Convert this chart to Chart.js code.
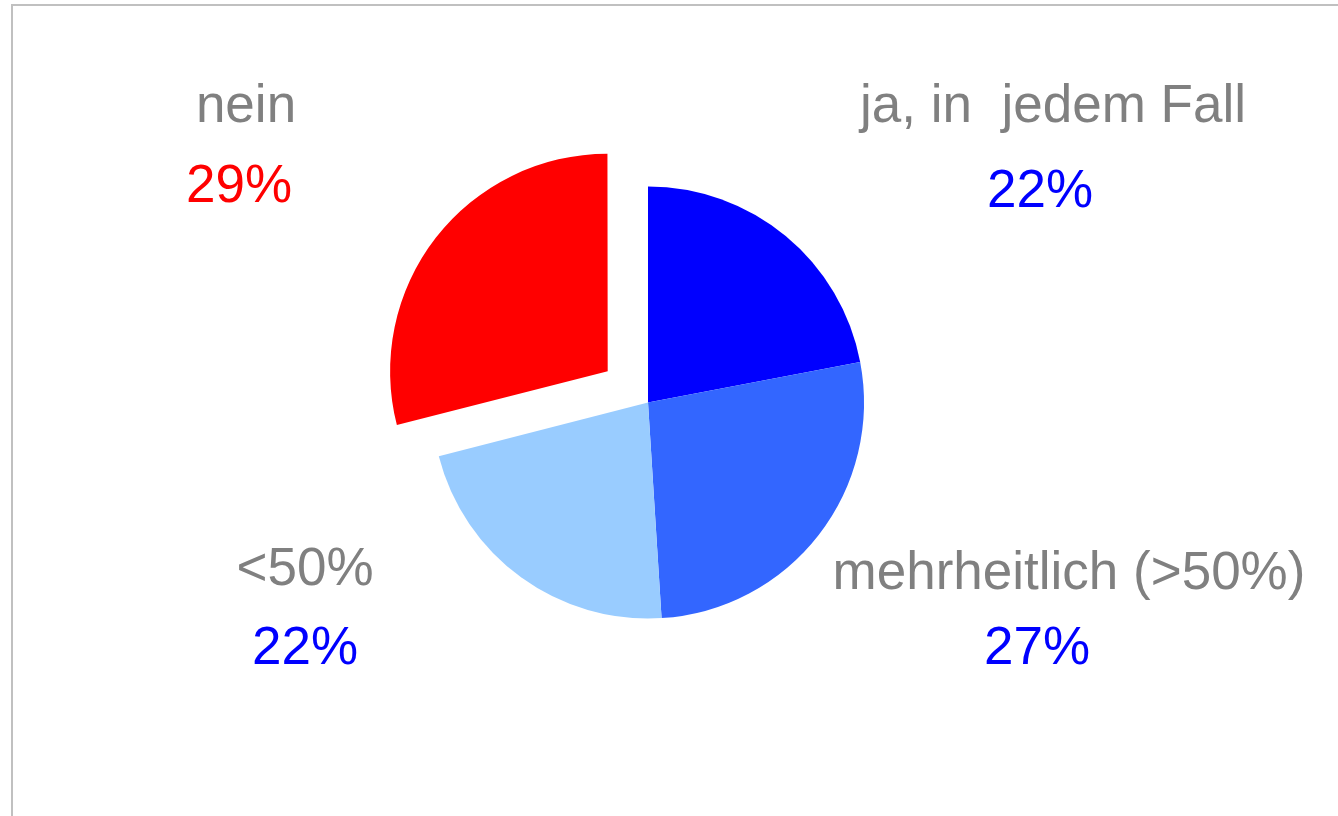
<!DOCTYPE html>
<html>
<head>
<meta charset="utf-8">
<style>
  html, body { margin: 0; padding: 0; background: #fff; }
  #wrap { position: relative; width: 1338px; height: 816px; overflow: hidden; }
  canvas { position: absolute; left: 0; top: 0; }
</style>
<script src="https://cdn.jsdelivr.net/npm/chart.js@4/dist/chart.umd.min.js"></script>
</head>
<body>
<div id="wrap"><canvas id="pie" width="1338" height="816"></canvas></div>
<script>
// data, clockwise from 12 o'clock
const categories = ['ja, in  jedem Fall', 'mehrheitlich (>50%)', '<50%', 'nein'];
const shares = [22, 27, 22, 29];
const sliceColors = ['#0000FF', '#3366FF', '#99CCFF', '#FF0000'];
const valueColors = ['#0000FF', '#0000FF', '#0000FF', '#FF0000'];
// chart.js moves an arc by offset/4, so 204 -> ~51px
const explode = [0, 0, 0, 204];

// where the name / value text sits (center x, baseline y)
const labelSpots = [
    { x: 1053, nameY: 122, valueX: 1040, valueY: 207 },
    { x: 1069, nameY: 589, valueX: 1037, valueY: 664 },
    { x: 305, nameY: 585, valueX: 305, valueY: 664 },
    { x: 246, nameY: 122, valueX: 239, valueY: 202 }
];

const frameLines = {
    id: 'frameLines',
    beforeDraw(chart) {
        const ctx = chart.ctx;
        ctx.save();
        ctx.strokeStyle = '#C0C0C0';
        ctx.lineWidth = 2;
        ctx.beginPath();
        ctx.moveTo(12, chart.height + 5);
        ctx.lineTo(12, 5);
        ctx.lineTo(chart.width + 5, 5);
        ctx.stroke();
        ctx.restore();
    }
};

const sliceLabels = {
    id: 'sliceLabels',
    afterDraw(chart) {
        const ctx = chart.ctx;
        const ds = chart.data.datasets[0];
        ctx.save();
        ctx.font = '53px "Liberation Sans", Arial, sans-serif';
        ctx.textAlign = 'center';
        ctx.textBaseline = 'alphabetic';
        chart.data.labels.forEach((name, i) => {
            const spot = labelSpots[i];
            ctx.fillStyle = '#808080';
            ctx.fillText(name, spot.x, spot.nameY);
            ctx.fillStyle = valueColors[i];
            ctx.fillText(ds.data[i] + '%', spot.valueX, spot.valueY);
        });
        ctx.restore();
    }
};

new Chart(document.getElementById('pie'), {
    type: 'pie',
    data: {
        labels: categories,
        datasets: [{
            data: shares,
            backgroundColor: sliceColors,
            borderWidth: 0,
            offset: explode,
            hoverOffset: 0
        }]
    },
    options: {
        responsive: false,
        animation: false,
        events: [],
        radius: 216,
        rotation: 0,
        layout: { padding: { left: 0, right: 42, top: 0, bottom: 11 } },
        plugins: {
            legend: { display: false },
            tooltip: { enabled: false }
        }
    },
    plugins: [frameLines, sliceLabels]
});
</script>
</body>
</html>
